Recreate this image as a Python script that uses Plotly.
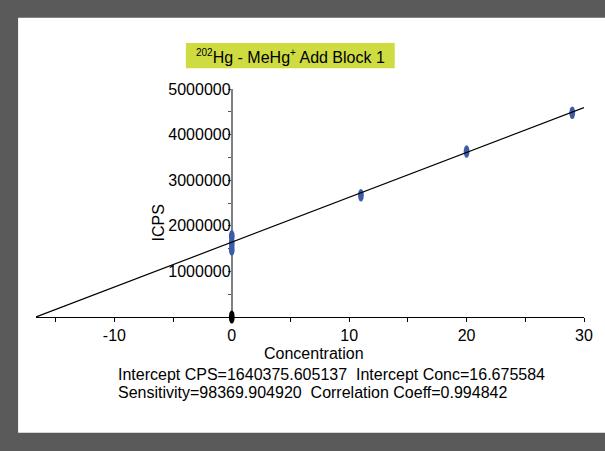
import plotly.graph_objects as go

# ---- data ----
conc = [0, 0, 0, 11, 20, 29]
icps = [1480000, 1620000, 1770000, 2670000, 3630000, 4480000]
blank_conc = [0]
blank_icps = [0]
intercept_cps = 1640375.605137
sensitivity = 98369.904920
intercept_conc = 16.675584
corr_coeff = 0.994842
x_tickvals = [-10, 0, 10, 20, 30]
x_ticktext = ["-10", "0", "10", "20", "30"]
x_minor = [-15, -5, 5, 15, 25]
y_tickvals = [1000000, 2000000, 3000000, 4000000, 5000000]
y_ticktext = ["1000000", "2000000", "3000000", "4000000", "5000000"]
y_minor = [500000, 1500000, 2500000, 3500000, 4500000]
title_html = ("<sup><span style='font-size:10px'>202</span></sup>Hg - MeHg"
              "<sup><span style='font-size:10px'>+</span></sup> Add Block 1")

FONT = "Liberation Sans, Arial, sans-serif"
xmin, xmax = -intercept_conc, 30
ymin, ymax = 0, 5000000

# plot-area geometry (px)
W, H = 605, 451
L, R, T, B = 36, 18, 88.5, 134
pw = W - L - R
ph = H - T - B

def px_x(p):
    return (p - L) / pw

def px_y(p):
    return (H - B - p) / ph

# marker half sizes in data units (ellipse ~6px wide, 12px tall)
hx = 2.9 * (xmax - xmin) / pw
hy = 6.3 * (ymax - ymin) / ph

fig = go.Figure()
# invisible traces carrying data (hover)
fig.add_trace(go.Scatter(x=conc, y=icps, mode="markers",
                         marker=dict(size=6, color="rgba(0,0,0,0)"),
                         showlegend=False, hoverinfo="x+y"))
fig.add_trace(go.Scatter(x=blank_conc, y=blank_icps, mode="markers",
                         marker=dict(size=6, color="rgba(0,0,0,0)"),
                         showlegend=False, hoverinfo="x+y"))

shapes = []
# white panel
shapes.append(dict(type="rect", xref="paper", yref="paper",
                   x0=px_x(18), x1=px_x(620), y0=px_y(433), y1=px_y(17),
                   fillcolor="white", line=dict(width=0), layer="below"))
# title box
shapes.append(dict(type="rect", xref="paper", yref="paper",
                   x0=px_x(186.7), x1=px_x(396.7), y0=px_y(67.7), y1=px_y(42.3),
                   fillcolor="#cedc42", line=dict(width=0), layer="above"))
# data ellipses
for xv, yv in zip(conc, icps):
    shapes.append(dict(type="circle", xref="x", yref="y",
                       x0=xv - hx, x1=xv + hx, y0=yv - hy, y1=yv + hy,
                       fillcolor="#3d5ca8", line=dict(width=0), layer="above"))
# blank point (y in domain units so it is not clipped at the axis)
for xv, yv in zip(blank_conc, blank_icps):
    yd = (yv - ymin) / (ymax - ymin)
    hd = hy * 1.05 / (ymax - ymin)
    shapes.append(dict(type="circle", xref="x", yref="y domain",
                       x0=xv - hx, x1=xv + hx, y0=yd - hd, y1=yd + hd,
                       fillcolor="black", line=dict(width=0), layer="above"))
# regression line
lx0 = -intercept_cps / sensitivity
lx1 = xmax
shapes.append(dict(type="line", xref="x", yref="y",
                   x0=lx0, y0=intercept_cps + sensitivity * lx0,
                   x1=lx1, y1=intercept_cps + sensitivity * lx1,
                   line=dict(color="black", width=1.2), layer="above"))

annotations = [
    dict(text=title_html, xref="paper", yref="paper", x=px_x(292), y=px_y(55.7),
         showarrow=False, font=dict(family=FONT, size=16, color="black"),
         xanchor="center", yanchor="middle"),
    dict(text="Concentration", xref="paper", yref="paper", x=px_x(316), y=px_y(354),
         showarrow=False, font=dict(family=FONT, size=16, color="black"),
         xanchor="center", yanchor="middle"),
    dict(text="ICPS", xref="paper", yref="paper", x=px_x(159), y=px_y(223),
         showarrow=False, textangle=-90, font=dict(family=FONT, size=16, color="black"),
         xanchor="center", yanchor="middle"),
    dict(text="Intercept CPS=%.6f&nbsp;&nbsp;Intercept Conc=%.6f" % (intercept_cps, intercept_conc),
         xref="paper", yref="paper", x=px_x(116.5), y=px_y(375),
         showarrow=False, font=dict(family=FONT, size=16, color="black"),
         xanchor="left", yanchor="middle"),
    dict(text="Sensitivity=%.6f&nbsp;&nbsp;Correlation Coeff=%.6f" % (sensitivity, corr_coeff),
         xref="paper", yref="paper", x=px_x(116.5), y=px_y(393),
         showarrow=False, font=dict(family=FONT, size=16, color="black"),
         xanchor="left", yanchor="middle"),
]

fig.update_layout(
    width=W, height=H,
    margin=dict(l=L, r=R, t=T, b=B),
    paper_bgcolor="#5a5a5a", plot_bgcolor="white",
    showlegend=False,
    shapes=shapes, annotations=annotations,
    font=dict(family=FONT, size=16, color="black"),
    xaxis=dict(range=[xmin, xmax], showgrid=False, zeroline=False,
               showline=True, linecolor="black", linewidth=1,
               ticks="outside", ticklen=4, tickcolor="black", tickwidth=1,
               tickvals=x_tickvals, ticktext=x_ticktext,
               minor=dict(tickvals=x_minor, ticks="outside", ticklen=4, tickcolor="black"),
               tickfont=dict(family=FONT, size=16, color="black")),
    yaxis=dict(range=[ymin, ymax], showgrid=False, zeroline=False,
               anchor="free", position=(0 - xmin) / (xmax - xmin),
               showline=True, linecolor="#808080", linewidth=2,
               ticks="outside", ticklen=3, tickcolor="#555555", tickwidth=1,
               ticklabelstandoff=-6,
               tickvals=y_tickvals, ticktext=y_ticktext,
               minor=dict(tickvals=y_minor, ticks="outside", ticklen=3, tickcolor="#555555"),
               tickfont=dict(family=FONT, size=16, color="black")),
)

fig.write_html("out.html", config={"displayModeBar": False},
               post_script="document.body.style.margin='0';document.body.style.padding='0';")
